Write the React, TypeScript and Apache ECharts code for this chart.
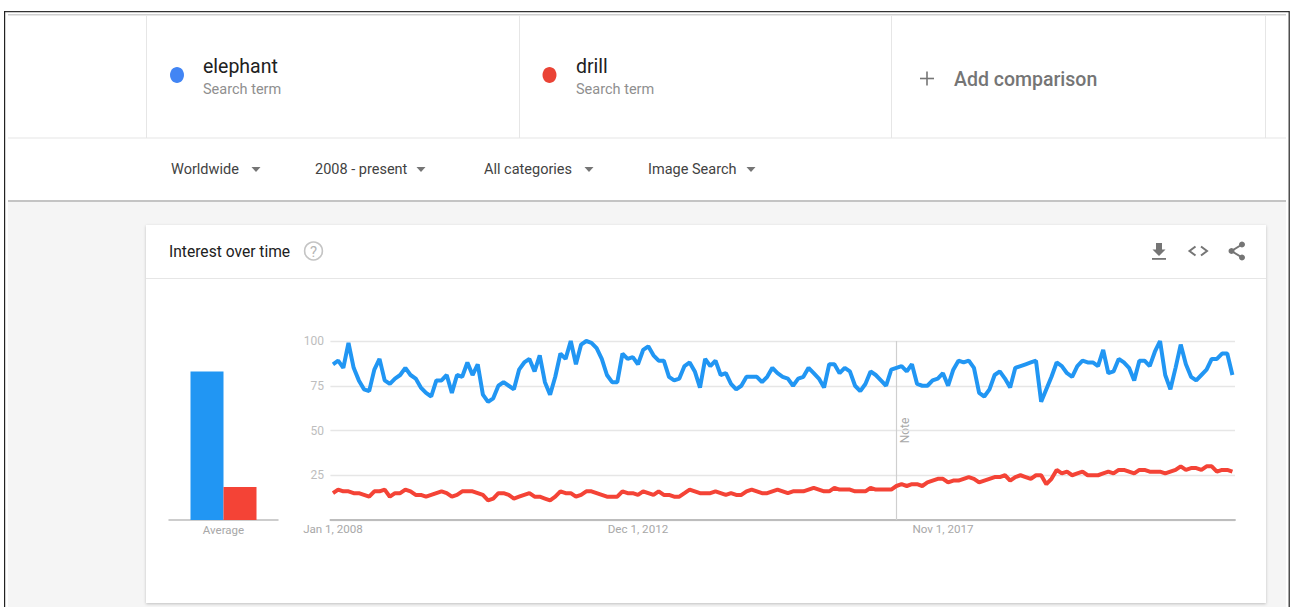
import React, { useEffect, useRef } from "react";
import * as echarts from "echarts";

const elephantValues = [
  87,89,85,99,85,78,73,72,84,90,
  78,76,79,81,85,81,79,74,71,69,
  78,78,81,71,81,80,88,81,87,70,
  66,68,75,77,75,73,84,88,90,83,
  92,77,70,80,93,90,100,87,98,100,
  99,96,90,81,77,77,93,90,91,87,
  95,97,92,89,89,80,78,79,86,88,
  83,74,90,86,89,81,82,76,73,75,
  80,80,80,77,80,85,82,80,79,75,
  79,80,85,82,79,74,87,87,82,85,
  83,75,72,76,83,81,78,75,84,85,
  86,83,87,76,75,75,78,79,82,75,
  84,89,88,89,85,71,69,73,81,83,
  79,74,85,86,87,88,89,66,73,80,
  88,86,82,80,86,89,88,88,86,95,
  82,83,90,88,85,78,89,89,86,94,
  100,81,73,85,98,87,80,78,81,84,
  90,90,93,93,81,
];
const drillValues = [
  15,17,16,16,15,15,14,13,16,16,
  17,13,15,15,17,16,14,14,13,14,
  15,16,15,13,14,16,16,16,15,14,
  11,12,15,15,14,12,13,14,15,13,
  13,12,11,13,16,15,15,13,14,16,
  16,15,14,13,13,13,16,15,15,14,
  16,15,14,16,14,14,13,13,15,17,
  16,15,15,15,16,15,14,15,14,14,
  16,17,16,15,15,16,17,16,15,16,
  16,16,17,18,17,16,16,18,17,17,
  17,16,16,16,18,17,17,17,17,19,
  20,19,20,20,19,21,22,23,23,21,
  22,22,23,24,23,21,22,23,24,24,
  25,22,24,25,24,23,25,25,20,23,
  28,26,27,25,26,27,25,25,25,26,
  27,26,28,28,27,26,28,28,27,27,
  27,26,27,28,30,28,29,29,28,30,
  30,27,28,28,27,
];
const averageValues = [83, 18.5];
const seriesNames = ["elephant", "drill"];
const seriesColors = ["#2196F3", "#F44336"];
const tickLabels = ["Jan 1, 2008", "Dec 1, 2012", "Nov 1, 2017"];
const noteDate = "Feb 1, 2017";
const filters = ["Worldwide", "2008 - present", "All categories", "Image Search"];

const monthNames = ["Jan","Feb","Mar","Apr","May","Jun","Jul","Aug","Sep","Oct","Nov","Dec"];
const months = elephantValues.map((_, i) => `${monthNames[i % 12]} 1, ${2008 + Math.floor(i / 12)}`);

const FONT = "Roboto, sans-serif";

function text(x: number, y: number, t: string, fontSize: number, fill: string, extra: any = {}) {
  return {
    type: "text",
    x,
    y,
    silent: true,
    style: { text: t, fontSize, fill, fontFamily: FONT, textVerticalAlign: "middle", verticalAlign: "middle", ...extra },
  };
}
function rect(x: number, y: number, width: number, height: number, fill: string, extra: any = {}) {
  return { type: "rect", z: -10, silent: true, shape: { x, y, width, height }, style: { fill }, ...extra };
}
function tri(cx: number, cy: number) {
  return {
    type: "polygon",
    silent: true,
    shape: { points: [[cx - 4.5, cy - 2.5], [cx + 4.5, cy - 2.5], [cx, cy + 2.5]] },
    style: { fill: "#757575" },
  };
}
function stroke(points: number[][], w = 2, color = "#757575") {
  return { type: "polyline", silent: true, shape: { points }, style: { stroke: color, lineWidth: w, fill: "none" } };
}

const graphics: any[] = [
  // page frame
  rect(4, 11, 1285, 596, "#ffffff"),
  rect(8, 202, 1278, 405, "#f5f5f5"),
  rect(4, 11, 1285, 1.2, "#333333"),
  rect(4, 11, 1.2, 596, "#222222"),
  rect(1288.6, 11, 1.2, 596, "#222222"),
  rect(8, 14, 1278, 1.5, "#cfcfcf"),
  rect(8, 137.5, 1278, 1, "#e6e6e6"),
  rect(146, 15, 1, 123, "#e6e6e6"),
  rect(519, 15, 1, 123, "#e6e6e6"),
  rect(891, 15, 1, 123, "#e6e6e6"),
  rect(1265, 15, 1, 123, "#e6e6e6"),
  rect(8, 200, 1278, 2, "#c4c4c4"),
  // card
  {
    type: "rect", z: -9, silent: true,
    shape: { x: 146, y: 225, width: 1120, height: 378 },
    style: { fill: "#ffffff", shadowBlur: 3, shadowColor: "rgba(0,0,0,0.22)", shadowOffsetY: 1 },
  },
  { ...rect(146, 278, 1120, 1, "#e6e6e6"), z: -8 },
  // search terms
  { type: "ellipse", silent: true, shape: { cx: 177, cy: 75, rx: 7, ry: 8 }, style: { fill: "#4285F4" } },
  { type: "ellipse", silent: true, shape: { cx: 549.5, cy: 75, rx: 7, ry: 8 }, style: { fill: "#EA4335" } },
  text(203, 66, seriesNames[0], 19.5, "#212121"),
  text(203, 89, "Search term", 14.5, "#8f8f8f"),
  text(576, 66, seriesNames[1], 19.5, "#212121"),
  text(576, 89, "Search term", 14.5, "#8f8f8f"),
  stroke([[920, 78.5], [934, 78.5]], 1.6),
  stroke([[927, 71.5], [927, 85.5]], 1.6),
  text(954, 79, "Add comparison", 19.5, "#757575", { fontWeight: 500 }),
  // filters
  text(171, 169.5, filters[0], 14.5, "#424242"),
  tri(256, 169.5),
  text(315, 169.5, filters[1], 14.5, "#424242"),
  tri(421, 169.5),
  text(484, 169.5, filters[2], 14.5, "#424242"),
  tri(589, 169.5),
  text(648, 169.5, filters[3], 14.5, "#424242"),
  tri(751, 169.5),
  // card header
  text(169, 251.5, "Interest over time", 15.6, "#212121"),
  { type: "circle", silent: true, shape: { cx: 313.5, cy: 251, r: 8.9 }, style: { fill: "none", stroke: "#c4c4c4", lineWidth: 1.6 } },
  text(313.5, 251.5, "?", 15, "#b5b5b5", { align: "center", textAlign: "center" }),
  // download icon
  {
    type: "polygon", silent: true,
    shape: { points: [[1156, 243], [1162, 243], [1162, 249.5], [1165.5, 249.5], [1159, 256], [1152.5, 249.5], [1156, 249.5]] },
    style: { fill: "#757575" },
  },
  { type: "rect", silent: true, shape: { x: 1152, y: 258, width: 14, height: 1.8 }, style: { fill: "#757575" } },
  // code icon
  stroke([[1195.5, 246.5], [1189.5, 251], [1195.5, 255.5]]),
  stroke([[1201, 246.5], [1207, 251], [1201, 255.5]]),
  // share icon
  stroke([[1242, 244.5], [1231.5, 251], [1242, 257.5]]),
  { type: "circle", silent: true, shape: { cx: 1242, cy: 244.5, r: 3 }, style: { fill: "#757575" } },
  { type: "circle", silent: true, shape: { cx: 1231.5, cy: 251, r: 3 }, style: { fill: "#757575" } },
  { type: "circle", silent: true, shape: { cx: 1242, cy: 257.5, r: 3 }, style: { fill: "#757575" } },
  // note
  { ...text(905, 430.5, "Note", 12, "#a8a8a8", { align: "center", textAlign: "center" }), rotation: Math.PI / 2 },
];

export default function App() {
  const ref = useRef<HTMLDivElement>(null);
  useEffect(() => {
    document.body.style.margin = "0";
    document.body.style.overflow = "hidden";
    const chart = echarts.init(ref.current!, undefined, { renderer: "svg" });
    chart.setOption({
      animation: false,
      backgroundColor: "#ffffff",
      textStyle: { fontFamily: FONT },
      grid: [
        { left: 169, top: 341, width: 109, height: 179 },
        { left: 330.4, top: 341, width: 904.6, height: 179 },
      ],
      xAxis: [
        {
          gridIndex: 0,
          type: "category",
          data: ["Average"],
          axisTick: { show: false },
          axisLine: { lineStyle: { color: "#bdbdbd", width: 1.5 } },
          axisLabel: { color: "#a8a8a8", fontSize: 11.5, margin: 3.5, fontFamily: FONT },
        },
        {
          gridIndex: 1,
          type: "category",
          data: months,
          boundaryGap: true,
          axisTick: { show: false },
          axisLine: { lineStyle: { color: "#bdbdbd", width: 1.8 } },
          axisLabel: {
            color: "#a8a8a8",
            fontSize: 11.6,
            margin: 3,
            fontFamily: FONT,
            interval: (_: number, v: string) => tickLabels.includes(v),
          },
        },
      ],
      yAxis: [
        { gridIndex: 0, type: "value", min: 0, max: 100, show: false },
        {
          gridIndex: 1,
          type: "value",
          min: 0,
          max: 100,
          interval: 25,
          axisLine: { show: false },
          axisTick: { show: false },
          splitLine: { lineStyle: { color: "#e6e6e6", width: 1.4 } },
          axisLabel: {
            color: "#bdbdbd",
            fontSize: 12,
            margin: 6.5,
            fontFamily: FONT,
            formatter: (v: number) => (v === 0 ? "" : String(v)),
          },
        },
      ],
      series: [
        {
          name: seriesNames[0], type: "bar", xAxisIndex: 0, yAxisIndex: 0,
          data: [averageValues[0]], barWidth: 33, barGap: 0,
          itemStyle: { color: seriesColors[0] },
        },
        {
          name: seriesNames[1], type: "bar", xAxisIndex: 0, yAxisIndex: 0,
          data: [averageValues[1]], barWidth: 33, barGap: 0,
          itemStyle: { color: seriesColors[1] },
        },
        {
          name: seriesNames[0], type: "line", xAxisIndex: 1, yAxisIndex: 1,
          data: elephantValues, showSymbol: false, symbol: "none",
          lineStyle: { color: seriesColors[0], width: 4 },
          markLine: {
            silent: true, symbol: "none", z: 1, animation: false,
            label: { show: false },
            lineStyle: { color: "#cfcfcf", width: 1.2, type: "solid" },
            data: [{ xAxis: noteDate }],
          },
        },
        {
          name: seriesNames[1], type: "line", xAxisIndex: 1, yAxisIndex: 1,
          data: drillValues, showSymbol: false, symbol: "none",
          lineStyle: { color: seriesColors[1], width: 4 },
        },
      ],
      graphic: { elements: graphics },
    });
    return () => chart.dispose();
  }, []);
  return (
    <div
      ref={ref}
      style={{ position: "absolute", left: 0, top: 0, width: 1290, height: 607 }}
    />
  );
}
